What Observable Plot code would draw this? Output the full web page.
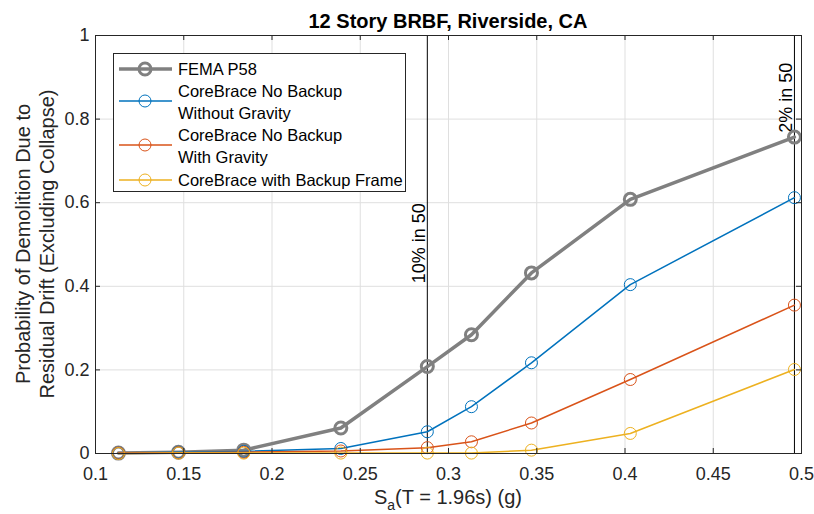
<!DOCTYPE html>
<html><head><meta charset="utf-8">
<script src="https://cdn.jsdelivr.net/npm/d3@7"></script>
<script src="https://cdn.jsdelivr.net/npm/@observablehq/plot@0.6"></script>
<style>body{margin:0;background:#fff}svg{display:block}</style>
</head><body><div id="chart"></div>
<script>
// ---- data ----
const sa = [0.113, 0.147, 0.184, 0.239, 0.288, 0.313, 0.347, 0.403, 0.496];
const femaP58 = [0.001, 0.003, 0.008, 0.061, 0.208, 0.284, 0.432, 0.608, 0.757];
const noBackupNoGravity = [0.001, 0.003, 0.005, 0.012, 0.052, 0.112, 0.217, 0.404, 0.612];
const noBackupGravity = [0.001, 0.002, 0.003, 0.006, 0.014, 0.028, 0.073, 0.177, 0.355];
const backupFrame = [0.000, 0.001, 0.001, 0.001, 0.001, 0.001, 0.008, 0.048, 0.201];
const seriesNames = ["FEMA P58", "CoreBrace No Backup\nWithout Gravity", "CoreBrace No Backup\nWith Gravity", "CoreBrace with Backup Frame"];
const hazardX = [0.288, 0.496];
const hazardY = [0.4, 0.76];
const hazardLabels = ["10% in 50", "2% in 50"];
const xTicks = [0.1, 0.15, 0.2, 0.25, 0.3, 0.35, 0.4, 0.45, 0.5];
const xTickLabels = ["0.1", "0.15", "0.2", "0.25", "0.3", "0.35", "0.4", "0.45", "0.5"];
const yTicks = [0, 0.2, 0.4, 0.6, 0.8, 1];
const yTickLabels = ["0", "0.2", "0.4", "0.6", "0.8", "1"];
const titleText = "12 Story BRBF, Riverside, CA";
const yLabelLines = ["Probability of Demolition Due to", "Residual Drift (Excluding Collapse)"];

// ---- styles ----
const styles = [
  {color: "#808080", lw: 3.5, mw: 3},
  {color: "#0072BD", lw: 1.5, mw: 1},
  {color: "#D95319", lw: 1.5, mw: 1},
  {color: "#EDB120", lw: 1.5, mw: 1}
];
const allValues = [femaP58, noBackupNoGravity, noBackupGravity, backupFrame];

const W = 814, H = 514, mL = 95, mR = 13, mT = 35, mB = 61;
const fw = W - mL - mR, fh = H - mT - mB;
const font = "'Liberation Sans', Arial, Helvetica, sans-serif";
const axisColor = "#262626";

const marks = [
  Plot.gridX(xTicks, {stroke: "#dfdfdf", strokeOpacity: 1}),
  Plot.gridY(yTicks, {stroke: "#dfdfdf", strokeOpacity: 1}),
  Plot.ruleX(hazardX, {x: d => d, stroke: "#000", strokeWidth: 1}),
  Plot.text(hazardLabels, {x: (d, i) => hazardX[i], y: (d, i) => hazardY[i], text: d => d, rotate: -90,
    textAnchor: "start", lineAnchor: "bottom", dx: -2, dy: -3, fontSize: 18, fill: "#000"})
];
allValues.forEach((vals, k) => {
  const pts = sa.map((x, i) => ({x, y: vals[i]}));
  marks.push(Plot.line(pts, {x: "x", y: "y", stroke: styles[k].color, strokeWidth: styles[k].lw}));
  marks.push(Plot.dot(pts, {x: "x", y: "y", r: 6, stroke: styles[k].color, strokeWidth: styles[k].mw, fill: "none"}));
});
marks.push(
  Plot.frame({stroke: axisColor, strokeWidth: 1}),
  Plot.ruleX(xTicks, {x: d => d, insetTop: fh - 5, stroke: axisColor}),
  Plot.ruleX(xTicks, {x: d => d, insetBottom: fh - 5, stroke: axisColor}),
  Plot.ruleY(yTicks, {y: d => d, insetRight: fw - 5, stroke: axisColor}),
  Plot.ruleY(yTicks, {y: d => d, insetLeft: fw - 5, stroke: axisColor}),
  Plot.axisX(xTicks, {tickSize: 0, tickPadding: 14, tickFormat: (d, i) => xTickLabels[i], fontSize: 18, fill: axisColor, label: null}),
  Plot.axisY(yTicks, {tickSize: 0, tickPadding: 6, tickFormat: (d, i) => yTickLabels[i], fontSize: 18, fill: axisColor, label: null})
);

const chart = Plot.plot({
  width: W, height: H,
  marginLeft: mL, marginRight: mR, marginTop: mT, marginBottom: mB,
  style: {fontFamily: font, background: "#fff"},
  x: {domain: [0.1, 0.5]},
  y: {domain: [0, 1]},
  marks
});
document.getElementById("chart").appendChild(chart);

// ---- titles, labels, legend ----
const svg = d3.select(chart);
const cx = mL + fw / 2;
svg.append("text").attr("x", cx).attr("y", 28).attr("text-anchor", "middle")
  .attr("font-family", font).attr("font-size", 20).attr("font-weight", "bold").attr("fill", "#000").text(titleText);

const xl = svg.append("text").attr("x", cx).attr("y", 504).attr("text-anchor", "middle")
  .attr("font-family", font).attr("font-size", 20).attr("fill", axisColor);
xl.append("tspan").text("S");
xl.append("tspan").attr("dy", 6).attr("font-size", 14).text("a");
xl.append("tspan").attr("dy", -6).text("(T = 1.96s) (g)");

const yl = svg.append("text").attr("transform", `translate(0,${mT + fh / 2}) rotate(-90)`)
  .attr("text-anchor", "middle").attr("font-family", font).attr("font-size", 20).attr("fill", axisColor);
yl.append("tspan").attr("x", 0).attr("y", 30).text(yLabelLines[0]);
yl.append("tspan").attr("x", 0).attr("y", 54).text(yLabelLines[1]);

const lg = svg.append("g").attr("font-family", font).attr("font-size", 16.5).attr("fill", "#000").attr("text-anchor", "start");
lg.append("rect").attr("x", 113.5).attr("y", 53.5).attr("width", 292).attr("height", 138)
  .attr("fill", "#fff").attr("stroke", axisColor).attr("stroke-width", 1);
const lineRowsY = [69, 101, 145, 180];
const textRowsY = [[69], [91, 113], [135, 157], [180]];
seriesNames.forEach((name, k) => {
  const y = lineRowsY[k];
  lg.append("line").attr("x1", 119).attr("x2", 172).attr("y1", y).attr("y2", y)
    .attr("stroke", styles[k].color).attr("stroke-width", styles[k].lw);
  lg.append("circle").attr("cx", 145).attr("cy", y).attr("r", 6).attr("fill", "none")
    .attr("stroke", styles[k].color).attr("stroke-width", styles[k].mw);
  name.split("\n").forEach((ln, j) => {
    lg.append("text").attr("x", 178).attr("y", textRowsY[k][j]).attr("dy", "0.35em").attr("text-anchor", "start").text(ln);
  });
});
</script></body></html>
